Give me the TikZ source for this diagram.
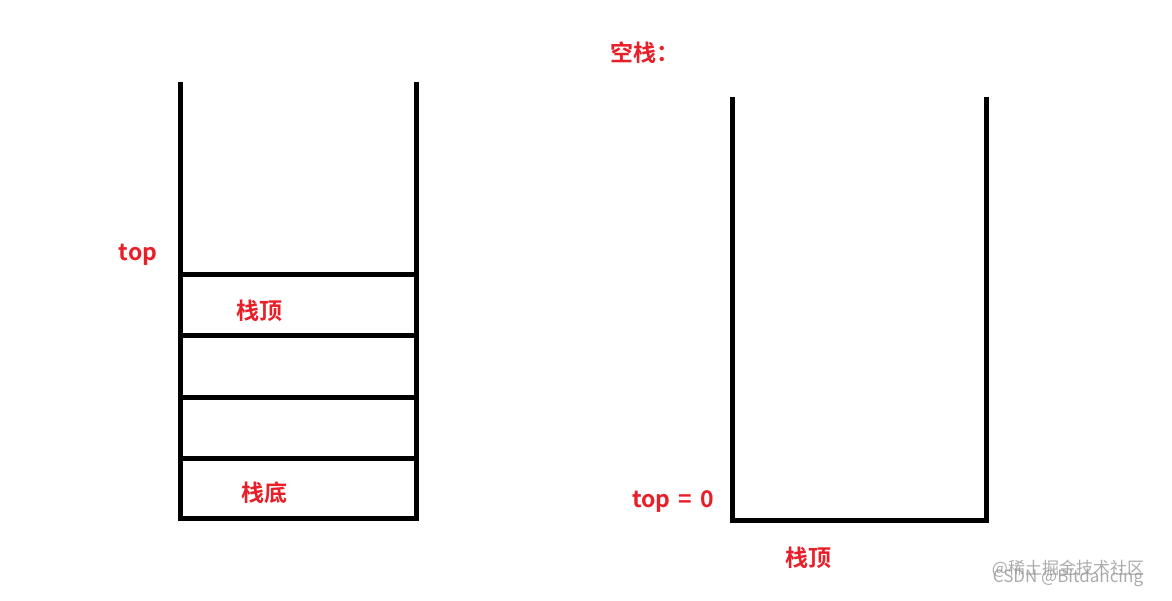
\documentclass[tikz,border=0pt]{standalone}
\usepackage{fontspec}
\newfontfamily\cjk{Noto Sans CJK SC}[BoldFont={* Bold}]
\definecolor{lbl}{RGB}{232,30,40}
\definecolor{wm}{RGB}{150,150,150}
\begin{document}
\begin{tikzpicture}[x=1pt,y=-1pt,
  shelf/.style={line width=5pt},
  lab/.style={font=\cjk\bfseries\fontsize{23}{26}\selectfont,text=lbl,inner sep=0pt},
  wmark/.style={font=\cjk\fontsize{17}{19}\selectfont,text=wm,inner sep=0pt,opacity=0.8}]
\useasboundingbox (0,0) rectangle (1172,600);
% left stack
\coordinate (lt) at (180,82);
\coordinate (lb) at (180,518);
\coordinate (rt) at (416,82);
\coordinate (rb) at (416,518);
\draw[line width=5pt] (lt) -- (lb) -- (rb) -- (rt);
\foreach \y in {274,335,397,458}{
  \draw[shelf] (180,\y) -- (416,\y);
}
\node[lab] (top1) at (138,255) {top};
\node[lab] (st1) at (259,311) {栈顶};
\node[lab] (sd1) at (264,493) {栈底};
% right stack
\coordinate (Lt) at (732,97);
\coordinate (Lb) at (732,520);
\coordinate (Rt) at (986,97);
\coordinate (Rb) at (986,520);
\draw[line width=5pt] (Lt) -- (Lb) -- (Rb) -- (Rt);
\node[lab] (empty) at (645,53) {空栈：};
\node[lab] (top0) at (673,502) {top\hspace{8pt}=\hspace{8pt}0};
\node[lab] (st2) at (808,558) {栈顶};
% watermark
\node[wmark] (wm1) at (1068,569) {@稀土掘金技术社区};
\node[wmark] (wm2) at (1068,578) {CSDN @Bitdancing};
\end{tikzpicture}
\end{document}
